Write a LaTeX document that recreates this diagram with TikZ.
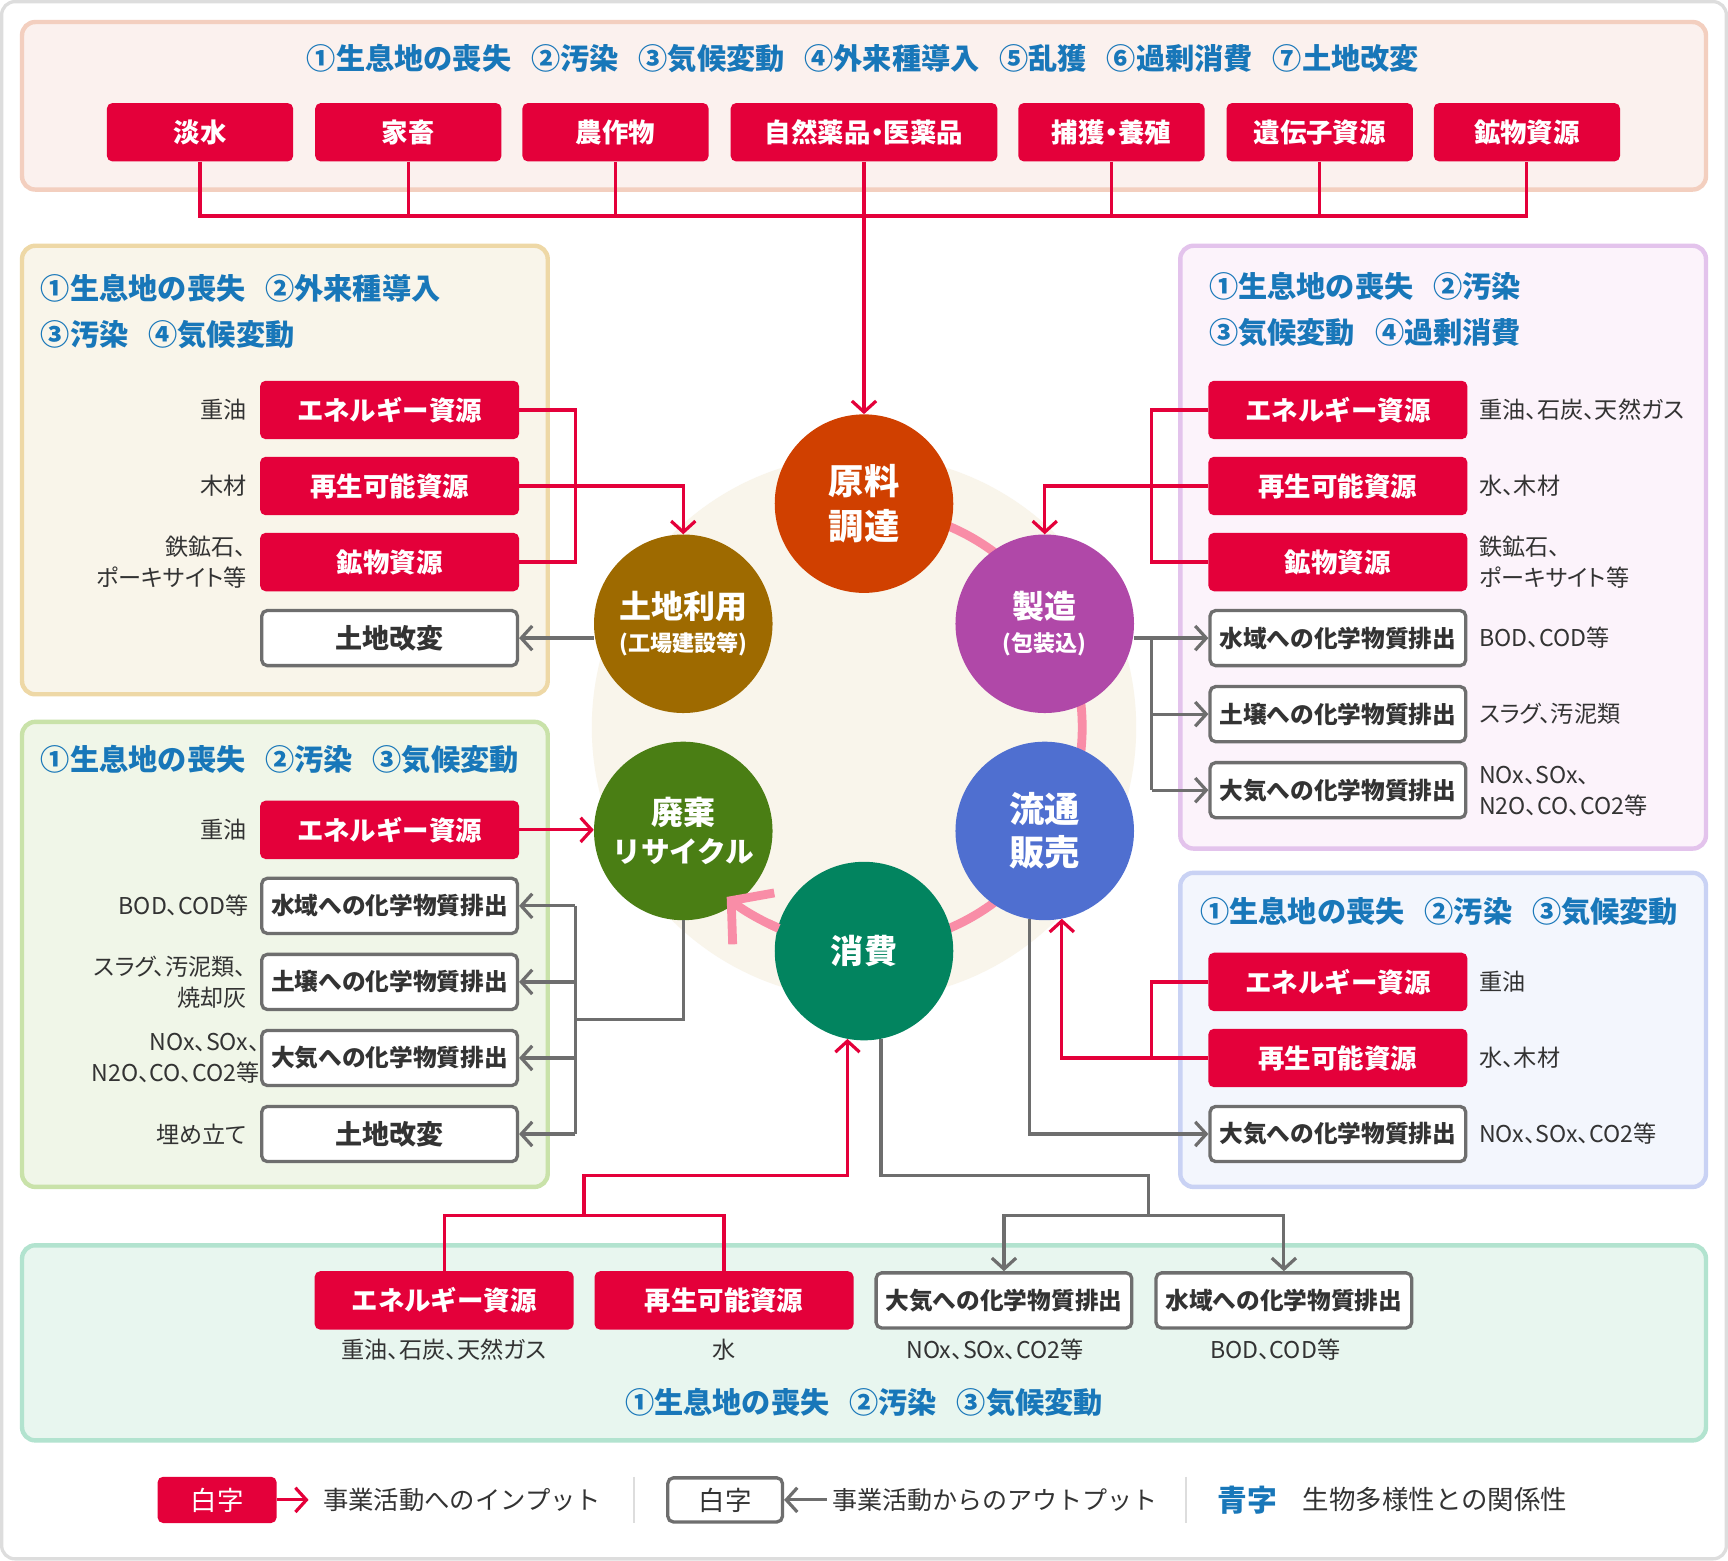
\documentclass[tikz,border=0pt]{standalone}
\usepackage{fontspec}
\setmainfont{Noto Sans CJK JP}
\newfontfamily\jpp{Noto Sans CJK JP}[RawFeature={+palt}]
\usetikzlibrary{arrows.meta}
\definecolor{myred}{HTML}{E4003A}
\definecolor{myblue}{HTML}{1877B9}
\definecolor{mygray}{HTML}{6E6E6E}
\definecolor{mytext}{HTML}{333333}
\definecolor{pinkring}{HTML}{F98DA7}
\definecolor{cream}{HTML}{F9F5EB}
\definecolor{outerB}{HTML}{DDDDDD}
\definecolor{topF}{HTML}{FBF1EE}\definecolor{topB}{HTML}{F3CFBF}
\definecolor{aF}{HTML}{F9F5EA}\definecolor{aB}{HTML}{EED8A6}
\definecolor{bF}{HTML}{F0F6E8}\definecolor{bB}{HTML}{C9E2A9}
\definecolor{cF}{HTML}{FCF3FB}\definecolor{cB}{HTML}{E3C3EC}
\definecolor{dF}{HTML}{F3F6FD}\definecolor{dB}{HTML}{C9D2F4}
\definecolor{eF}{HTML}{E8F6EF}\definecolor{eB}{HTML}{B2E3CF}
\definecolor{cGen}{HTML}{D04000}
\definecolor{cTochi}{HTML}{9E6A00}
\definecolor{cSeizo}{HTML}{B048A8}
\definecolor{cHaiki}{HTML}{4A7E14}
\definecolor{cRyu}{HTML}{4F6FD0}
\definecolor{cShohi}{HTML}{02845F}
\newcommand{\myfs}[2]{\fontsize{#1}{#2}\selectfont}
\newcommand{\gp}{\hspace{18pt}}
\tikzset{
  redbox/.style={fill=myred, rounded corners=5pt, text=white, font=\bfseries\myfs{24}{28}, minimum height=53pt, minimum width=235pt, inner sep=0pt},
  wbox/.style={fill=white, draw=mygray, line width=3pt, rounded corners=5pt, text=mytext, font=\bfseries\myfs{21.5}{26}, minimum height=50pt, minimum width=232pt, inner sep=0pt},
  lbl/.style={text=mytext, font=\jpp\myfs{21}{28}, inner sep=0pt},
  ttl/.style={text=myblue, font=\bfseries\myfs{26.5}{30}, inner sep=0pt},
  circ/.style={circle, minimum size=162pt, inner sep=0pt, text=white, font=\bfseries\myfs{29}{38}, align=center},
  panel/.style={line width=4pt, rounded corners=12pt},
  redline/.style={draw=myred, line width=2.9pt},
  redarrow/.style={redline, -{Straight Barb[length=10pt,width=22pt]}},
  grayline/.style={draw=mygray, line width=2.9pt},
  grayarrow/.style={grayline, -{Straight Barb[length=10pt,width=22pt]}},
}
\begin{document}
\begin{tikzpicture}[x=1pt,y=-1pt]
\useasboundingbox (0,0) rectangle (1568,1416);
\draw[draw=outerB, line width=3pt, fill=white, rounded corners=12pt] (1.5,1.5) rectangle (1566.5,1414.5);
% panels
\draw[panel, draw=topB, fill=topF] (20,20) rectangle (1548,172);
\draw[panel, draw=aB, fill=aF] (20,223) rectangle (497,630);
\draw[panel, draw=bB, fill=bF] (20,655) rectangle (497,1077);
\draw[panel, draw=cB, fill=cF] (1071,223) rectangle (1548,770);
\draw[panel, draw=dB, fill=dF] (1071,792) rectangle (1548,1077);
\draw[panel, draw=eB, fill=eF] (20,1130) rectangle (1548,1307);
% cycle background
\fill[cream] (784,660) circle[radius=247];
\draw[pinkring, line width=8pt] (784,660) ++(-90:198) arc[start angle=-90, end angle=116, radius=198];
% circles
\node[circ, fill=cGen, font=\bfseries\myfs{32}{40}] (GEN) at (784,457) {原料\\調達};
\node[circ, fill=cTochi] (TOCHI) at (620,566) {土地利用\\[-8pt]{\myfs{20}{26}(工場建設等)}};
\node[circ, fill=cSeizo] (SEIZO) at (948,566) {製造\\[-8pt]{\myfs{20}{26}(包装込)}};
\node[circ, fill=cHaiki] (HAIKI) at (620,754) {廃棄\\[-3pt]{\myfs{26}{34}リサイクル}};
\node[circ, fill=cRyu, font=\bfseries\myfs{32}{39}] (RYU) at (948,754) {流通\\販売};
\node[circ, fill=cShohi, font=\bfseries\myfs{30}{38}] (SHOHI) at (784,863) {消費};
\draw[pinkring, line width=8pt, -{Straight Barb[length=26pt,width=60pt]}] (784,660) ++(113:198) arc[start angle=113, end angle=129, radius=198];
% top panel
\node[ttl] (TT) at (783,53) {①生息地の喪失\gp②汚染\gp③気候変動\gp④外来種導入\gp⑤乱獲\gp⑥過剰消費\gp⑦土地改変};
\node[redbox, minimum width=169pt] (T1) at (181.5,120) {淡水};
\node[redbox, minimum width=169pt] (T2) at (370.5,120) {家畜};
\node[redbox, minimum width=169pt] (T3) at (558.5,120) {農作物};
\node[redbox, minimum width=242pt, font=\jpp\bfseries\myfs{24}{28}] (T4) at (784,120) {自然薬品・医薬品};
\node[redbox, minimum width=169pt, font=\jpp\bfseries\myfs{24}{28}] (T5) at (1008.5,120) {捕獲・養殖};
\node[redbox, minimum width=169pt] (T6) at (1197.5,120) {遺伝子資源};
\node[redbox, minimum width=169pt] (T7) at (1385.5,120) {鉱物資源};
\coordinate (tR) at (1385.5,196);
\draw[redline] (T1.south) |- (tR) -- (T7.south);
\draw[redline] (T2.south) -- (T2.south |- tR);
\draw[redline] (T3.south) -- (T3.south |- tR);
\draw[redline] (T5.south) -- (T5.south |- tR);
\draw[redline] (T6.south) -- (T6.south |- tR);
\draw[redarrow] (T4.south) -- (GEN.north);
% panel A
\node[ttl, anchor=west] (AT1) at (37,262) {①生息地の喪失\gp②外来種導入};
\node[ttl, anchor=west] (AT2) at (37,304) {③汚染\gp④気候変動};
\node[redbox] (AE) at (353.5,372) {エネルギー資源};
\node[redbox] (AR) at (353.5,441) {再生可能資源};
\node[redbox] (AM) at (353.5,510) {鉱物資源};
\node[wbox, font=\bfseries\myfs{24.5}{28}] (AK) at (353.5,579) {土地改変};
\node[lbl, anchor=east] (al1) at (224,372) {重油};
\node[lbl, anchor=east] (al2) at (224,441) {木材};
\node[lbl, anchor=east, align=right] (al3) at (224,510) {鉄鉱石、\\ポーキサイト等};
\coordinate (aJ) at (522,441);
\draw[redline] (AE.east) -| (aJ) |- (AM.east);
\draw[redarrow] (AR.east) -| (TOCHI.north);
\draw[grayarrow] (TOCHI.west |- AK) -- (AK.east);
% panel B
\node[ttl, anchor=west] (BT) at (37,689) {①生息地の喪失\gp②汚染\gp③気候変動};
\node[redbox] (BE) at (353.5,753) {エネルギー資源};
\node[wbox] (BW) at (353.5,822) {水域への化学物質排出};
\node[wbox] (BS) at (353.5,891) {土壌への化学物質排出};
\node[wbox] (BA) at (353.5,960) {大気への化学物質排出};
\node[wbox, font=\bfseries\myfs{24.5}{28}] (BK) at (353.5,1029) {土地改変};
\node[lbl, anchor=east] (bl1) at (224,753) {重油};
\node[lbl, anchor=east] (bl2) at (226,822) {BOD、COD等};
\node[lbl, anchor=east, align=right] (bl3) at (224,891) {スラグ、汚泥類、\\焼却灰};
\node[lbl, anchor=east, align=right] (bl4) at (236,960) {NOx、SOx、\\N2O、CO、CO2等};
\node[lbl, anchor=east] (bl5) at (224,1029) {埋め立て};
\draw[redarrow] (BE.east) -- (BE.east -| HAIKI.west);
\coordinate (bM) at (522,925);
\coordinate (bT) at (522,822);
\coordinate (bB) at (522,1029);
\draw[grayline] (HAIKI.south) |- (bM);
\draw[grayline] (bT) -- (bB);
\draw[grayarrow] (bT) -- (BW.east);
\draw[grayarrow] (bT |- BS) -- (BS.east);
\draw[grayarrow] (bT |- BA) -- (BA.east);
\draw[grayarrow] (bB) -- (BK.east);
% panel C
\node[ttl, anchor=west] (CT1) at (1097,260) {①生息地の喪失\gp②汚染};
\node[ttl, anchor=west] (CT2) at (1097,302) {③気候変動\gp④過剰消費};
\node[redbox] (CE) at (1214,372) {エネルギー資源};
\node[redbox] (CR) at (1214,441) {再生可能資源};
\node[redbox] (CM) at (1214,510) {鉱物資源};
\node[wbox] (CW) at (1214,579) {水域への化学物質排出};
\node[wbox] (CS) at (1214,648) {土壌への化学物質排出};
\node[wbox] (CA) at (1214,717) {大気への化学物質排出};
\node[lbl, anchor=west] (cl1) at (1342,372) {重油、石炭、天然ガス};
\node[lbl, anchor=west] (cl2) at (1342,441) {水、木材};
\node[lbl, anchor=west, align=left] (cl3) at (1342,510) {鉄鉱石、\\ポーキサイト等};
\node[lbl, anchor=west] (cl4) at (1342,579) {BOD、COD等};
\node[lbl, anchor=west] (cl5) at (1342,648) {スラグ、汚泥類};
\node[lbl, anchor=west, align=left] (cl6) at (1342,718) {NOx、SOx、\\N2O、CO、CO2等};
\coordinate (cJ) at (1045,441);
\draw[redline] (CE.west) -| (cJ) |- (CM.west);
\draw[redarrow] (CR.west) -| (SEIZO.north);
\coordinate (cT) at (1045,579);
\coordinate (cB) at (1045,717);
\draw[grayarrow] (SEIZO.east |- CW) -- (CW.west);
\draw[grayline] (cT) -- (cB);
\draw[grayarrow] (cT |- CS) -- (CS.west);
\draw[grayarrow] (cB) -- (CA.west);
% panel D
\node[ttl, anchor=west] (DT) at (1089,827) {①生息地の喪失\gp②汚染\gp③気候変動};
\node[redbox] (DE) at (1214,891) {エネルギー資源};
\node[redbox] (DR) at (1214,960) {再生可能資源};
\node[wbox] (DA) at (1214,1029) {大気への化学物質排出};
\node[lbl, anchor=west] (dl1) at (1342,891) {重油};
\node[lbl, anchor=west] (dl2) at (1342,960) {水、木材};
\node[lbl, anchor=west] (dl3) at (1342,1029) {NOx、SOx、CO2等};
\coordinate (dJ) at (1045,960);
\draw[redline] (DE.west) -| (dJ) -- (DR.west);
\draw[redarrow] (dJ) -| (RYU.-79);
\draw[grayarrow] (RYU.-100) |- (DA.west);
% panel E
\node[redbox] (EE) at (403,1180) {エネルギー資源};
\node[redbox] (ER) at (657,1180) {再生可能資源};
\node[wbox] (EA) at (911,1180) {大気への化学物質排出};
\node[wbox] (EW) at (1165,1180) {水域への化学物質排出};
\node[lbl] (el1) at (403,1225) {重油、石炭、天然ガス};
\node[lbl] (el2) at (657,1225) {水};
\node[lbl] (el3) at (903,1225) {NOx、SOx、CO2等};
\node[lbl] (el4) at (1157,1225) {BOD、COD等};
\node[ttl] (ET) at (784,1273) {①生息地の喪失\gp②汚染\gp③気候変動};
\coordinate (eJ) at (530,1103);
\coordinate (eK) at (769,1067);
\draw[redline] (EE.north) |- (eJ) -| (ER.north);
\draw[redarrow] (eJ) |- (eK) -- (eK |- SHOHI.-101);
\coordinate (eL) at (1042,1067);
\coordinate (eM) at (1042,1103);
\draw[grayline] (SHOHI.-79) |- (eL) -- (eM);
\draw[grayarrow] (eM) -| (EA.north);
\draw[grayarrow] (eM) -| (EW.north);
% legend
\node[redbox, minimum width=108pt, minimum height=42pt, font=\myfs{24}{26}] (LG1) at (197,1361) {白字};
\coordinate (lgA) at (280,1361);
\draw[redarrow] (LG1.east) -- (lgA);
\node[lbl, anchor=west, font=\myfs{23}{26}] (LT1) at (293,1361) {事業活動へのインプット};
\draw[draw=outerB, line width=1.5pt] (575,1340) -- (575,1382);
\node[wbox, minimum width=104pt, minimum height=40pt, font=\myfs{24}{26}] (LG2) at (658,1361) {白字};
\coordinate (lgB) at (750,1361);
\draw[grayarrow] (lgB) -- (LG2.east);
\node[lbl, anchor=west, font=\myfs{22.7}{26}] (LT2) at (755,1361) {事業活動からのアウトプット};
\draw[draw=outerB, line width=1.5pt] (1076,1340) -- (1076,1382);
\node[ttl, anchor=west, font=\bfseries\myfs{27}{30}] (LT3) at (1105,1361) {青字};
\node[lbl, anchor=west, font=\myfs{24}{26}] (LT4) at (1182,1361) {生物多様性との関係性};
\end{tikzpicture}
\end{document}
